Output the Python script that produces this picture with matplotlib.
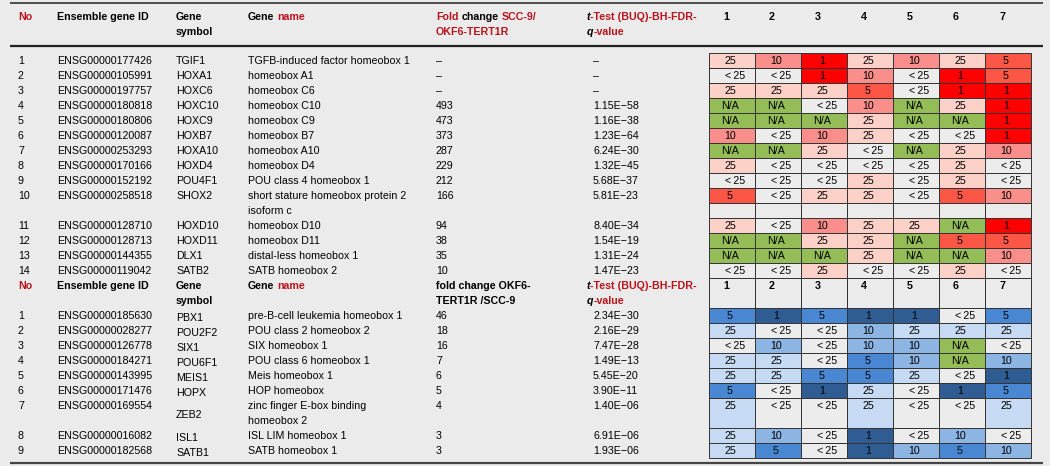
import matplotlib
matplotlib.use("Agg")
import matplotlib.pyplot as plt
from matplotlib.patches import Rectangle

plt.rcParams["font.family"] = ["Liberation Sans", "DejaVu Sans"]

# ---- data: genes up in SCC-9 -------------------------------------------
up_ids = ["ENSG00000177426", "ENSG00000105991", "ENSG00000197757", "ENSG00000180818",
          "ENSG00000180806", "ENSG00000120087", "ENSG00000253293", "ENSG00000170166",
          "ENSG00000152192", "ENSG00000258518", "ENSG00000128710", "ENSG00000128713",
          "ENSG00000144355", "ENSG00000119042"]
up_symbols = ["TGIF1", "HOXA1", "HOXC6", "HOXC10", "HOXC9", "HOXB7", "HOXA10", "HOXD4",
              "POU4F1", "SHOX2", "HOXD10", "HOXD11", "DLX1", "SATB2"]
up_names = ["TGFB-induced factor homeobox 1", "homeobox A1", "homeobox C6", "homeobox C10",
            "homeobox C9", "homeobox B7", "homeobox A10", "homeobox D4",
            "POU class 4 homeobox 1", "short stature homeobox protein 2\nisoform c",
            "homeobox D10", "homeobox D11", "distal-less homeobox 1", "SATB homeobox 2"]
up_fold = ["\u2013", "\u2013", "\u2013", "493", "473", "373", "287", "229", "212", "166",
           "94", "38", "35", "10"]
up_q = ["\u2013", "\u2013", "\u2013", "1.15E\u221258", "1.16E\u221238", "1.23E\u221264",
        "6.24E\u221230", "1.32E\u221245", "5.68E\u221237", "5.81E\u221223", "8.40E\u221234",
        "1.54E\u221219", "1.31E\u221224", "1.47E\u221223"]
up_rank = [
    ["25", "10", "1", "25", "10", "25", "5"],
    ["<25", "<25", "1", "10", "<25", "1", "5"],
    ["25", "25", "25", "5", "<25", "1", "1"],
    ["N/A", "N/A", "<25", "10", "N/A", "25", "1"],
    ["N/A", "N/A", "N/A", "25", "N/A", "N/A", "1"],
    ["10", "<25", "10", "25", "<25", "<25", "1"],
    ["N/A", "N/A", "25", "<25", "N/A", "25", "10"],
    ["25", "<25", "<25", "<25", "<25", "25", "<25"],
    ["<25", "<25", "<25", "25", "<25", "25", "<25"],
    ["5", "<25", "25", "25", "<25", "5", "10"],
    ["25", "<25", "10", "25", "25", "N/A", "1"],
    ["N/A", "N/A", "25", "25", "N/A", "5", "5"],
    ["N/A", "N/A", "N/A", "25", "N/A", "N/A", "10"],
    ["<25", "<25", "25", "<25", "<25", "25", "<25"],
]

# ---- data: genes up in OKF6-TERT1R ---------------------------------------
dn_ids = ["ENSG00000185630", "ENSG00000028277", "ENSG00000126778", "ENSG00000184271",
          "ENSG00000143995", "ENSG00000171476", "ENSG00000169554", "ENSG00000016082",
          "ENSG00000182568"]
dn_symbols = ["PBX1", "POU2F2", "SIX1", "POU6F1", "MEIS1", "HOPX", "ZEB2", "ISL1", "SATB1"]
dn_names = ["pre-B-cell leukemia homeobox 1", "POU class 2 homeobox 2", "SIX homeobox 1",
            "POU class 6 homeobox 1", "Meis homeobox 1", "HOP homeobox",
            "zinc finger E-box binding\nhomeobox 2", "ISL LIM homeobox 1", "SATB homeobox 1"]
dn_fold = ["46", "18", "16", "7", "6", "5", "4", "3", "3"]
dn_q = ["2.34E\u221230", "2.16E\u221229", "7.47E\u221228", "1.49E\u221213", "5.45E\u221220",
        "3.90E\u221211", "1.40E\u221206", "6.91E\u221206", "1.93E\u221206"]
dn_rank = [
    ["5", "1", "5", "1", "1", "<25", "5"],
    ["25", "<25", "<25", "10", "25", "25", "25"],
    ["<25", "10", "<25", "10", "10", "N/A", "<25"],
    ["25", "25", "<25", "5", "10", "N/A", "10"],
    ["25", "25", "5", "5", "25", "<25", "1"],
    ["5", "<25", "1", "25", "<25", "1", "5"],
    ["25", "<25", "<25", "25", "<25", "<25", "25"],
    ["25", "10", "<25", "1", "<25", "10", "<25"],
    ["25", "5", "<25", "1", "10", "5", "10"],
]

rank_cols = ["1", "2", "3", "4", "5", "6", "7"]

red_scale = {"1": "#fe0000", "5": "#fc5646", "10": "#f98e8a", "25": "#fdd0c8",
             "<25": "#ececec", "N/A": "#95bd57"}
blue_scale = {"1": "#2f5d93", "5": "#4a87d3", "10": "#8db5e3", "25": "#c6dbf3",
              "<25": "#ececec", "N/A": "#95bd57"}

# ---- layout -------------------------------------------------------------
BG = "#ebebeb"
RED = "#b8141c"
FS = 7.7
ROW_H = 15.0
Y0 = 60.0              # centre of first body slot
X_NO, X_ID, X_SYM, X_NAME, X_FOLD, X_QH, X_Q = 18, 57, 176, 248, 436, 587, 593
GRID_L, GRID_R = 709.0, 1031.0
CW = (GRID_R - GRID_L) / len(rank_cols)

fig = plt.figure(figsize=(10.5, 4.66), dpi=100, facecolor=BG)
ax = fig.add_axes([0, 0, 1, 1])
ax.set_xlim(0, 1050)
ax.set_ylim(466, 0)
ax.axis("off")


def txt(x, y, s, **kw):
    opts = dict(fontsize=FS, va="center", ha="left", color="black")
    opts.update(kw)
    return ax.text(x, y, s, **opts)


def rich(x, y, parts):
    """Bold header text made of differently coloured pieces."""
    prev = None
    space_pt = 0.278 * FS
    for s, color, style in parts:
        opts = dict(fontsize=FS, fontweight="bold", fontstyle=style, color=color,
                    va="center", ha="left")
        if prev is None:
            prev = ax.text(x, y, s, **opts)
        else:
            gap = space_pt if s.startswith(" ") else 0.0
            prev = ax.annotate(s.lstrip(), xy=(1, 0.5), xycoords=prev,
                               xytext=(gap, 0), textcoords="offset points", **opts)


def slot_y(slot):
    return Y0 + ROW_H * slot


def header(y1, y2, fold_parts1, fold_parts2):
    rich(X_NO, y1, [("No", RED, "normal")])
    rich(X_ID, y1, [("Ensemble gene ID", "black", "normal")])
    rich(X_SYM, y1, [("Gene", "black", "normal")])
    rich(X_SYM, y2, [("symbol", "black", "normal")])
    rich(X_NAME, y1, [("Gene", "black", "normal"), (" name", RED, "normal")])
    rich(X_FOLD, y1, fold_parts1)
    rich(X_FOLD, y2, fold_parts2)
    rich(X_QH, y1, [("t", "black", "italic"), ("-Test (BUQ)-BH-FDR-", RED, "normal")])
    rich(X_QH, y2, [("q", "black", "italic"), ("-value", RED, "normal")])


def cell(slot, col, nslots, value, scale):
    x = GRID_L + CW * col
    top = slot_y(slot) - ROW_H / 2
    ax.add_patch(Rectangle((x, top), CW, ROW_H * nslots, facecolor=scale.get(value, BG),
                           edgecolor="#333333", linewidth=0.7))
    if value:
        dx = 3.5 if value.startswith("<") else -2.0
        txt(x + CW / 2 + dx, slot_y(slot) + 1, value.replace("<", "<\u2009"), ha="center")


def body(start, ids, syms, names, folds, qs, ranks, scale, merge, sym_dy):
    slot = start
    for i in range(len(ids)):
        name_lines = names[i].split("\n")
        n = len(name_lines)
        y = slot_y(slot) + 1
        txt(X_NO, y, str(i + 1))
        txt(X_ID, y, ids[i])
        sym_y = y + ROW_H * (n - 1) / 2 if merge else y
        txt(X_SYM, sym_y + sym_dy, syms[i])
        for k, line in enumerate(name_lines):
            txt(X_NAME, y + ROW_H * k, line)
        txt(X_FOLD, y, folds[i])
        txt(X_Q, y, qs[i])
        for c, v in enumerate(ranks[i]):
            if merge:
                cell(slot, c, n, v, scale)
            else:
                cell(slot, c, 1, v, scale)
                for k in range(1, n):
                    cell(slot + k, c, 1, "", scale)
        slot += n
    return slot


# rules
ax.plot([10, 1043], [3.3, 3.3], color="#333333", lw=1.2, solid_capstyle="butt")
ax.plot([10, 1043], [45.5, 45.5], color="#222222", lw=1.6, solid_capstyle="butt")
ax.plot([10, 1043], [463.0, 463.0], color="#444444", lw=1.6, solid_capstyle="butt")

# section 1
header(17, 32,
       [("Fold", RED, "normal"), (" change", "black", "normal"), (" SCC-9/", RED, "normal")],
       [("OKF6-TERT1R", RED, "normal")])
for c, lab in enumerate(rank_cols):
    txt(GRID_L + CW * c + 14, 17, lab, fontweight="bold")
slot = body(0, up_ids, up_symbols, up_names, up_fold, up_q, up_rank, red_scale, False, 0)

# section 2 header (inside the grid)
header(slot_y(slot) + 1, slot_y(slot + 1) + 1,
       [("fold change OKF6-", "black", "normal")],
       [("TERT1R /SCC-9", "black", "normal")])
for c, lab in enumerate(rank_cols):
    x = GRID_L + CW * c
    ax.add_patch(Rectangle((x, slot_y(slot) - ROW_H / 2), CW, 2 * ROW_H, facecolor=BG,
                           edgecolor="#333333", linewidth=0.7))
    txt(x + 14, slot_y(slot) + 1, lab, fontweight="bold")
slot += 2
body(slot, dn_ids, dn_symbols, dn_names, dn_fold, dn_q, dn_rank, blue_scale, True, 2)

fig.savefig("out.png", dpi=100, facecolor=BG)
plt.close(fig)
